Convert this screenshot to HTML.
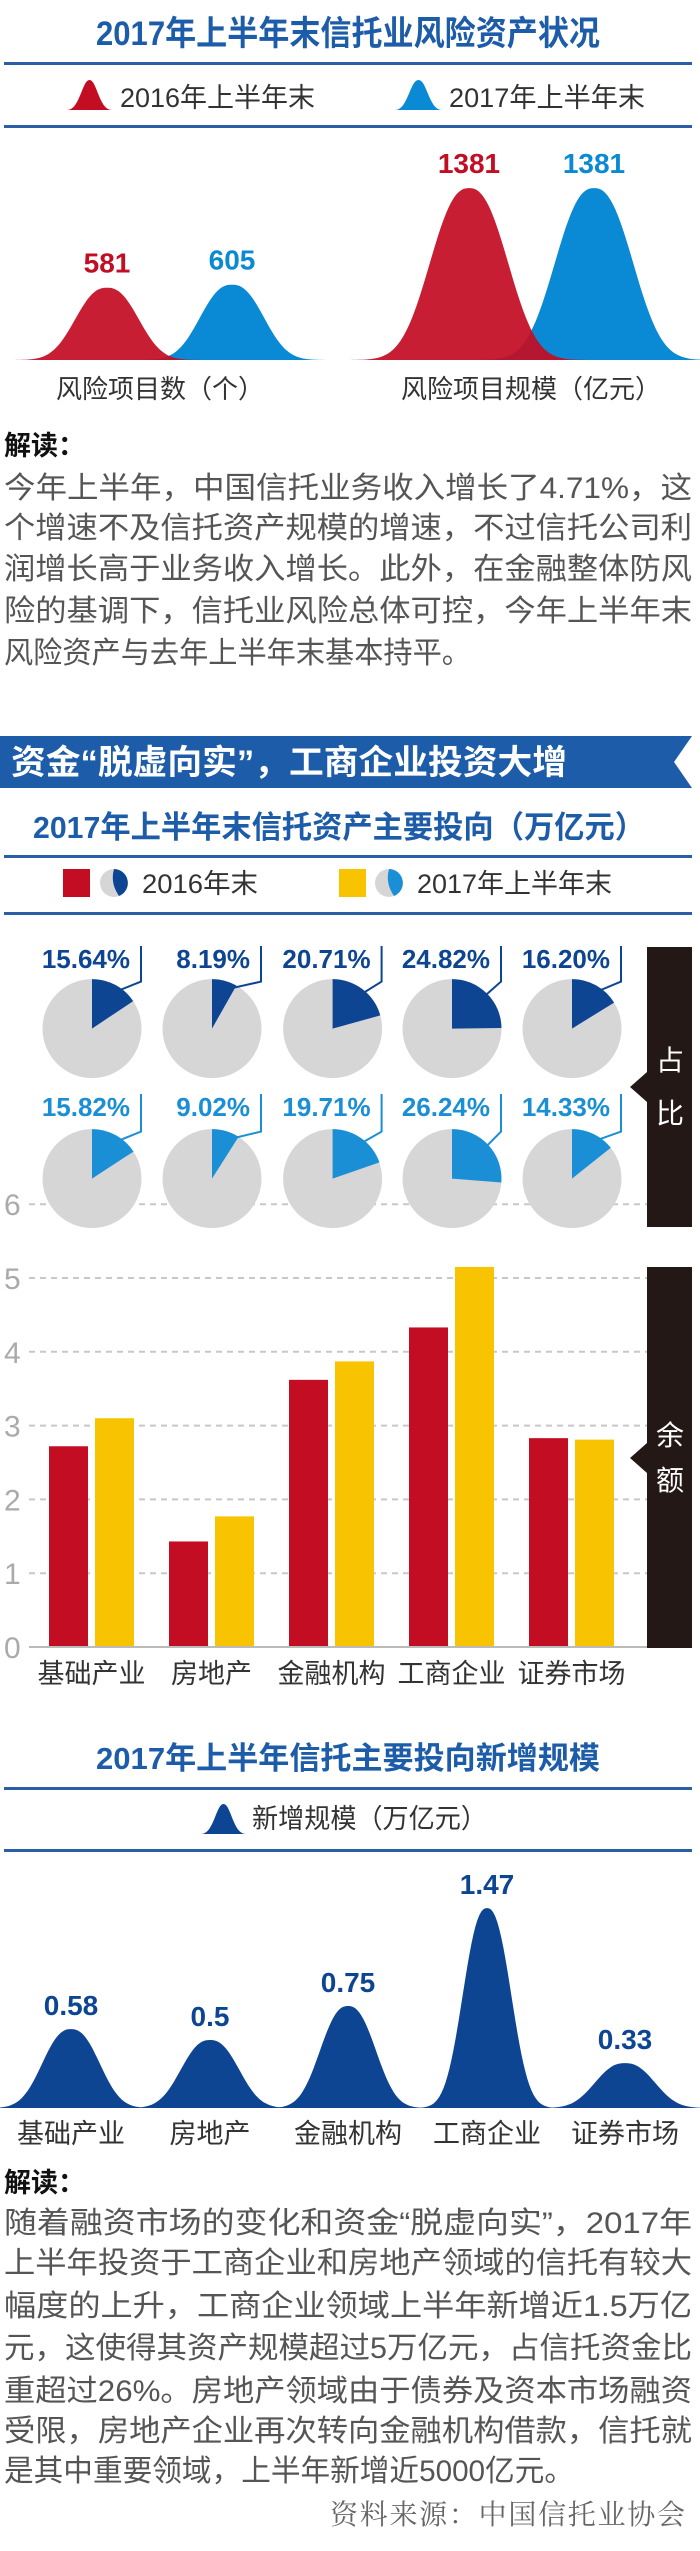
<!DOCTYPE html>
<html><head><meta charset="utf-8"><title>2017年上半年末信托业风险资产状况</title>
<style>
html,body{margin:0;padding:0;background:#fff;}
svg{display:block;}
text{font-family:"Liberation Sans","Noto Sans CJK SC",sans-serif;}
.t{font-weight:bold;fill:#1c5ca8;}
.p{fill:#555;font-size:30px;}
.lg{fill:#333;font-size:27px;}
.num{font-family:"Liberation Sans Narrow","Liberation Sans",sans-serif;font-weight:bold;}
.tick{fill:#aaa;font-size:30px;}
.xl{fill:#333;font-size:27px;text-anchor:middle;}
</style></head>
<body>
<svg id="root" width="700" height="2551" viewBox="0 0 700 2551" xmlns="http://www.w3.org/2000/svg">
<!-- Section 1 -->
<text class="t" x="96" y="45" font-size="34" textLength="504" lengthAdjust="spacingAndGlyphs">2017年上半年末信托业风险资产状况</text>
<rect x="4" y="62" width="688" height="3" fill="#2a5fa5"/>
<path d="M67,110 C80,110 82,80 89.5,80 C97,80 99,110 112,110 Z" fill="#c30d23"/>
<text class="lg" x="120" y="107" font-size="28" textLength="195" lengthAdjust="spacingAndGlyphs">2016年上半年末</text>
<path d="M395,110 C408,110 410,80 418.5,80 C427,80 429,110 442,110 Z" fill="#0a8ad4"/>
<text class="lg" x="449" y="107" font-size="28" textLength="196" lengthAdjust="spacingAndGlyphs">2017年上半年末</text>
<rect x="4" y="125" width="688" height="3" fill="#2a5fa5"/>
<g id="bells1"></g>
<text x="4" y="455" font-size="27" font-weight="bold" fill="#111">解读：</text>
<g>
<text class="p" x="4" y="498" textLength="688" lengthAdjust="spacingAndGlyphs">今年上半年，中国信托业务收入增长了4.71%，这</text>
<text class="p" x="4" y="538" textLength="688" lengthAdjust="spacingAndGlyphs">个增速不及信托资产规模的增速，不过信托公司利</text>
<text class="p" x="4" y="579" textLength="688" lengthAdjust="spacingAndGlyphs">润增长高于业务收入增长。此外，在金融整体防风</text>
<text class="p" x="4" y="621" textLength="688" lengthAdjust="spacingAndGlyphs">险的基调下，信托业风险总体可控，今年上半年末</text>
<text class="p" x="4" y="663" textLength="467" lengthAdjust="spacingAndGlyphs">风险资产与去年上半年末基本持平。</text>
</g>
<!-- Section 2 -->
<polygon points="0,736 692,736 674,762 692,788 0,788" fill="#1c5ca8"/>
<text x="11" y="774" font-size="34" font-weight="bold" fill="#fff" textLength="556" lengthAdjust="spacingAndGlyphs">资金“脱虚向实”，工商企业投资大增</text>
<text class="t" x="33" y="838" font-size="31" textLength="612" lengthAdjust="spacingAndGlyphs">2017年上半年末信托资产主要投向（万亿元）</text>
<rect x="4" y="855" width="688" height="3" fill="#2a5fa5"/>
<rect x="63" y="869" width="27" height="28" fill="#c30d23"/>
<circle cx="114" cy="883" r="14" fill="#d6d6d6"/>
<path d="M114,869 A14,14 0 0 1 119,896 Q110,883 114,869 Z" fill="#0d4592"/>
<text class="lg" x="142" y="893" textLength="116" lengthAdjust="spacingAndGlyphs">2016年末</text>
<rect x="339" y="869" width="27" height="28" fill="#f8c300"/>
<circle cx="389" cy="883" r="14" fill="#d6d6d6"/>
<path d="M389,869 A14,14 0 0 1 394,896 Q385,883 389,869 Z" fill="#1b8fd6"/>
<text class="lg" x="417" y="893" textLength="195" lengthAdjust="spacingAndGlyphs">2017年上半年末</text>
<rect x="4" y="912" width="688" height="3" fill="#2a5fa5"/>
<g id="grid"></g>
<g id="pies"></g>
<g id="bars"></g>
<polygon points="647,947 692,947 692,1227 647,1227 647,1102 630,1087 647,1072" fill="#231815"/>
<text x="670" y="1070" font-size="28" fill="#fff" text-anchor="middle">占</text>
<text x="670" y="1123" font-size="28" fill="#fff" text-anchor="middle">比</text>
<polygon points="647,1267 692,1267 692,1648 647,1648 647,1473 630,1458 647,1443" fill="#231815"/>
<text x="670" y="1445" font-size="28" fill="#fff" text-anchor="middle">余</text>
<text x="670" y="1490" font-size="28" fill="#fff" text-anchor="middle">额</text>
<!-- Section 3 -->
<text class="t" x="96" y="1769" font-size="31" textLength="504" lengthAdjust="spacingAndGlyphs">2017年上半年信托主要投向新增规模</text>
<rect x="4" y="1787" width="688" height="3" fill="#2a5fa5"/>
<path d="M201,1834 C214,1834 216,1804 223.5,1804 C231,1804 233,1834 246,1834 Z" fill="#0d4592"/>
<text class="lg" x="252" y="1828" textLength="235" lengthAdjust="spacingAndGlyphs">新增规模（万亿元）</text>
<rect x="4" y="1849" width="688" height="3" fill="#2a5fa5"/>
<g id="bells3"></g>
<text x="4" y="2192" font-size="27" font-weight="bold" fill="#111">解读：</text>
<g>
<text class="p" x="4" y="2233" textLength="688" lengthAdjust="spacingAndGlyphs">随着融资市场的变化和资金“脱虚向实”，2017年</text>
<text class="p" x="4" y="2273" textLength="688" lengthAdjust="spacingAndGlyphs">上半年投资于工商企业和房地产领域的信托有较大</text>
<text class="p" x="4" y="2316" textLength="688" lengthAdjust="spacingAndGlyphs">幅度的上升，工商企业领域上半年新增近1.5万亿</text>
<text class="p" x="4" y="2358" textLength="688" lengthAdjust="spacingAndGlyphs">元，这使得其资产规模超过5万亿元，占信托资金比</text>
<text class="p" x="4" y="2401" textLength="688" lengthAdjust="spacingAndGlyphs">重超过26%。房地产领域由于债券及资本市场融资</text>
<text class="p" x="4" y="2441" textLength="688" lengthAdjust="spacingAndGlyphs">受限，房地产企业再次转向金融机构借款，信托就</text>
<text class="p" x="4" y="2481" textLength="570" lengthAdjust="spacingAndGlyphs">是其中重要领域，上半年新增近5000亿元。</text>
</g>
<text x="330" y="2524" font-size="28" fill="#666" textLength="355" lengthAdjust="spacing" style='font-family:"Liberation Serif","Noto Serif CJK SC",serif'>资料来源：中国信托业协会</text>
</svg>
<script>
// ---- Chart 1: risk assets ----
const riskCategories = ['风险项目数（个）', '风险项目规模（亿元）'];
const risk2016 = [581, 1381];
const risk2017 = [605, 1381];
// ---- Chart 2: shares & balances ----
const sectors = ['基础产业', '房地产', '金融机构', '工商企业', '证券市场'];
const share2016 = [15.64, 8.19, 20.71, 24.82, 16.20];
const share2017 = [15.82, 9.02, 19.71, 26.24, 14.33];
const balance2016 = [2.72, 1.43, 3.62, 4.33, 2.83];
const balance2017 = [3.10, 1.77, 3.87, 5.15, 2.81];
const balanceTicks = [0, 1, 2, 3, 4, 5, 6];
// ---- Chart 3: new increase ----
const increaseValues = [0.58, 0.5, 0.75, 1.47, 0.33];
const increaseLabels = ['0.58', '0.5', '0.75', '1.47', '0.33'];

const NS = 'http://www.w3.org/2000/svg';
function mk(tag, attrs, parent) {
  const e = document.createElementNS(NS, tag);
  for (const k in attrs) e.setAttribute(k, attrs[k]);
  parent.appendChild(e);
  return e;
}
function bellPath(cx, base, h, s) {
  const ext = 3.2 * s;
  let d = 'M' + (cx - ext) + ',' + base;
  for (let dx = -ext; dx <= ext; dx += 2) {
    const y = base - h * Math.exp(-0.5 * Math.pow(Math.abs(dx / s), 2.4));
    d += ' L' + (cx + dx).toFixed(1) + ',' + y.toFixed(1);
  }
  return d + ' L' + (cx + ext) + ',' + base + ' Z';
}

// Chart 1
const b1 = document.getElementById('bells1');
const base1 = 360, riskScale = v => v * 0.1245;
const groupX1 = [107, 469], gap1 = 125, labelX1 = [160, 531];
riskCategories.forEach((c, i) => {
  [[risk2017, '#0a8ad4', 1, '2017'], [risk2016, '#c30d23', 0, '2016']].forEach(([arr, col, off, yr]) => {
    const h = riskScale(arr[i]);
    const s = 25 + 0.07 * h;
    const cx = groupX1[i] + off * gap1;
    const p = mk('path', { d: bellPath(cx, base1, h, s), fill: col, opacity: yr === '2016' ? 0.93 : 1 }, b1);
    
    
    const t = mk('text', { x: cx, y: base1 - h - 15, 'text-anchor': 'middle', 'font-size': 28, fill: col, class: 'num' }, b1);
    t.textContent = arr[i];
    
    
  });
  const lab = mk('text', { x: labelX1[i], y: 398, 'text-anchor': 'middle', 'font-size': 26, fill: '#333' }, b1);
  lab.textContent = c;
  
  
});

// Bar axis
const y0 = 1647, unit = 73.8;
const yScale = v => y0 - v * unit;
const grid = document.getElementById('grid');
balanceTicks.forEach(t => {
  const y = yScale(t);
  if (t > 0) {
    const l = mk('line', { x1: 29, x2: 647, y1: y, y2: y, stroke: '#c8c8c8', 'stroke-width': 2, 'stroke-dasharray': '6,5' }, grid);
    
    
  }
  const tx = mk('text', { x: 4, y: y + 11, class: 'tick' }, grid);
  tx.textContent = t;
  
  
});

// Pies
const pies = document.getElementById('pies');
const pieX = [92, 212, 332.6, 452, 572];
function drawPie(cx, cy, pct, col, name, labelY) {
  const r = 49.5;
  const g = mk('circle', { cx: cx, cy: cy, r: r, fill: '#d6d6d6' }, pies);
  
  
  const a = pct / 100 * 2 * Math.PI;
  const ex = cx + r * Math.sin(a), ey = cy - r * Math.cos(a);
  const s = mk('path', { d: `M${cx},${cy} L${cx},${cy - r} A${r},${r} 0 ${pct > 50 ? 1 : 0} 1 ${ex.toFixed(1)},${ey.toFixed(1)} Z`, fill: col }, pies);
  
  
  const m = a / 2;
  const px = cx + 0.8 * r * Math.sin(m), py = cy - 0.8 * r * Math.cos(m);
  const lx = cx + 49;
  const ld = mk('polyline', { points: `${lx},${labelY - 13} ${lx},${cy - 47} ${px.toFixed(1)},${py.toFixed(1)}`, fill: 'none', stroke: col, 'stroke-width': 2 }, pies);
  
  
  const t = mk('text', { x: cx + 38, y: labelY + 9, 'text-anchor': 'end', 'font-size': 26, fill: col, class: 'num' }, pies);
  t.textContent = pct.toFixed(2) + '%';
  
  
}
sectors.forEach((c, i) => {
  drawPie(pieX[i], 1028.6, share2016[i], '#0d4592', 'pie-2016-' + i, 959);
  drawPie(pieX[i], 1178.6, share2017[i], '#1b8fd6', 'pie-2017-' + i, 1107);
});

// Bars
const bars = document.getElementById('bars');
const bw = 39, groupStart = 49, pitch = 120;
sectors.forEach((c, i) => {
  const gx = groupStart + pitch * i;
  [[balance2016, '#c30d23', 0, '2016'], [balance2017, '#f8c300', 46, '2017']].forEach(([arr, col, off, yr]) => {
    const y = yScale(arr[i]);
    const r = mk('rect', { x: gx + off, y: y, width: bw, height: y0 - y, fill: col }, bars);
    
    
  });
  const t = mk('text', { x: gx + 42.5, y: 1683, class: 'xl' }, bars);
  t.textContent = c;
  
  
});
const ax = mk('line', { x1: 29, x2: 647, y1: y0, y2: y0, stroke: '#bbb', 'stroke-width': 2 }, bars);



// Chart 3
const b3 = document.getElementById('bells3');
const base3 = 2108, incScale = v => v * 136;
const bellX3 = [71, 210, 348, 487, 625];
increaseValues.forEach((v, i) => {
  const h = incScale(v);
  const s = 30 - 0.035 * h;
  const p = mk('path', { d: bellPath(bellX3[i], base3, h, s), fill: '#0d4592' }, b3);
  
  
  const t = mk('text', { x: bellX3[i], y: base3 - h - 14, 'text-anchor': 'middle', 'font-size': 28, fill: '#0d4592', class: 'num' }, b3);
  t.textContent = increaseLabels[i];
  
  
  const l = mk('text', { x: bellX3[i], y: 2143, class: 'xl' }, b3);
  l.textContent = sectors[i];
  
  
});
</script>
</body></html>
